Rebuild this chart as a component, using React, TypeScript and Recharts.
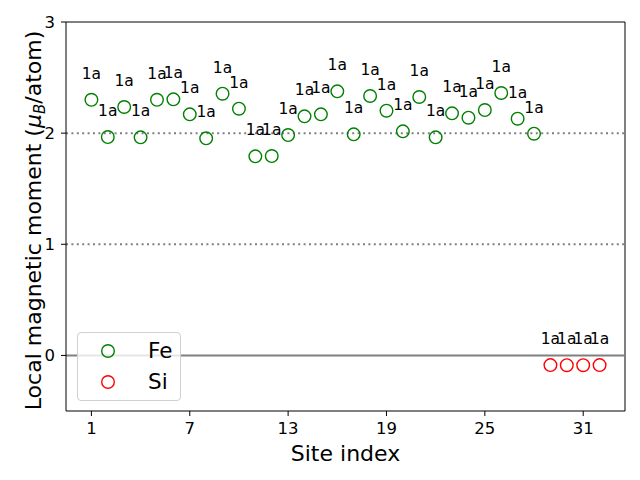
import {
  Legend,
  ReferenceLine,
  Scatter,
  ScatterChart,
  XAxis,
  YAxis,
} from "recharts";

const FONT = "DejaVu Sans, sans-serif";

// Fe sites 1-28, Si sites 29-32 (all Wyckoff 1a)
const feSites = [
  1, 2, 3, 4, 5, 6, 7, 8, 9, 10, 11, 12, 13, 14, 15, 16, 17, 18, 19, 20, 21,
  22, 23, 24, 25, 26, 27, 28,
];
const feMoments = [
  2.3, 1.965, 2.235, 1.962, 2.3, 2.304, 2.169, 1.953, 2.355, 2.22, 1.791,
  1.794, 1.983, 2.151, 2.169, 2.376, 1.989, 2.334, 2.202, 2.016, 2.325, 1.962,
  2.178, 2.139, 2.208, 2.361, 2.13, 1.995,
];
const feLabels = feSites.map(() => "1a");

const siSites = [29, 30, 31, 32];
const siMoments = [-0.087, -0.088, -0.088, -0.087];
const siLabels = ["1a", "1a", "1a", "1a"];

const xTicks = [1, 7, 13, 19, 25, 31];
const yTicks = [0, 1, 2, 3];
const dottedLevels = [1, 2];

const X_DOMAIN = [-0.55, 33.55];
const Y_DOMAIN = [-0.5, 3];

const feData = feSites.map((site, i) => ({
  site,
  moment: feMoments[i],
  label: feLabels[i],
}));
const siData = siSites.map((site, i) => ({
  site,
  moment: siMoments[i],
  label: siLabels[i],
}));

const series = [
  { name: "Fe", color: "#008000" },
  { name: "Si", color: "#ff0000" },
];

function makeShape(color: string) {
  return (props: any) => {
    const { cx, cy, payload } = props;
    return (
      <g>
        <circle cx={cx} cy={cy} r={6.3} fill="none" stroke={color} strokeWidth={1.4} />
        <text
          x={cx}
          y={cy - 26}
          textAnchor="middle"
          dominantBaseline="central"
          fontSize={15.5}
          fontFamily={FONT}
          fill="#000"
        >
          {payload.label}
        </text>
      </g>
    );
  };
}

function LegendBox() {
  return (
    <div
      style={{
        width: 104,
        height: 69,
        boxSizing: "border-box",
        border: "1px solid #d0d0d0",
        borderRadius: 4,
        background: "rgba(255,255,255,0.8)",
        fontFamily: FONT,
        fontSize: 21.5,
        position: "relative",
      }}
    >
      {series.map((s, i) => (
        <div
          key={s.name}
          style={{ position: "absolute", left: 0, top: 4 + i * 31, height: 28, width: 100 }}
        >
          <svg width={20} height={20} style={{ position: "absolute", left: 20, top: 4 }}>
            <circle cx={10} cy={10} r={6.3} fill="none" stroke={s.color} strokeWidth={1.4} />
          </svg>
          <span style={{ position: "absolute", left: 70, top: 1, lineHeight: "26px" }}>{s.name}</span>
        </div>
      ))}
    </div>
  );
}

function YLabel(props: any) {
  const vb = props.viewBox || { x: 0, y: 22, width: 66, height: 389 };
  const cy = vb.y + vb.height / 2 + 4;
  return (
    <text
      transform={`translate(41,${cy}) rotate(-90)`}
      textAnchor="middle"
      fontSize={22}
      fontFamily={FONT}
      fill="#000"
    >
      Local magnetic moment (
      <tspan fontStyle="italic">μ</tspan>
      <tspan fontSize={15} fontStyle="italic" dy={4}>B</tspan>
      <tspan dy={-4}>/atom)</tspan>
    </text>
  );
}

function XLabel(props: any) {
  const vb = props.viewBox || { x: 66, y: 411, width: 559, height: 69 };
  return (
    <text
      x={vb.x + vb.width / 2}
      y={461}
      textAnchor="middle"
      fontSize={22}
      fontFamily={FONT}
      fill="#000"
    >
      Site index
    </text>
  );
}

export default function App() {
  return (
    <div style={{ position: "absolute", left: 0, top: 0, background: "#fff" }}>
      <ScatterChart
        width={640}
        height={480}
        margin={{ top: 22, right: 15, bottom: 0, left: 0 }}
      >
        <XAxis
          type="number"
          dataKey="site"
          domain={X_DOMAIN}
          ticks={xTicks}
          allowDataOverflow
          height={69}
          stroke="#000"
          tickSize={5}
          tickMargin={6}
          tick={{ fill: "#000", fontSize: 16.5, fontFamily: FONT }}
          label={<XLabel />}
        />
        <YAxis
          type="number"
          dataKey="moment"
          domain={Y_DOMAIN}
          ticks={yTicks}
          allowDataOverflow
          width={66}
          stroke="#000"
          tickSize={5}
          tickMargin={6}
          tick={{ fill: "#000", fontSize: 16.5, fontFamily: FONT }}
          label={<YLabel />}
        />
        {/* top and right spines */}
        <ReferenceLine y={Y_DOMAIN[1]} stroke="#000" strokeWidth={1} />
        <ReferenceLine x={X_DOMAIN[1]} stroke="#000" strokeWidth={1} />
        <ReferenceLine y={0} stroke="#808080" strokeWidth={2} />
        {dottedLevels.map((lv) => (
          <ReferenceLine
            key={lv}
            y={lv}
            stroke="#808080"
            strokeWidth={2}
            strokeDasharray="2 3.4"
          />
        ))}
        <Scatter
          name="Fe"
          data={feData}
          isAnimationActive={false}
          shape={makeShape("#008000")}
        />
        <Scatter
          name="Si"
          data={siData}
          isAnimationActive={false}
          shape={makeShape("#ff0000")}
        />
        <Legend
          layout="horizontal"
          verticalAlign="middle"
          align="center"
          content={() => <LegendBox />}
          wrapperStyle={{ position: "absolute", left: 77, top: 332, width: 104, height: 69 }}
        />
      </ScatterChart>
    </div>
  );
}
